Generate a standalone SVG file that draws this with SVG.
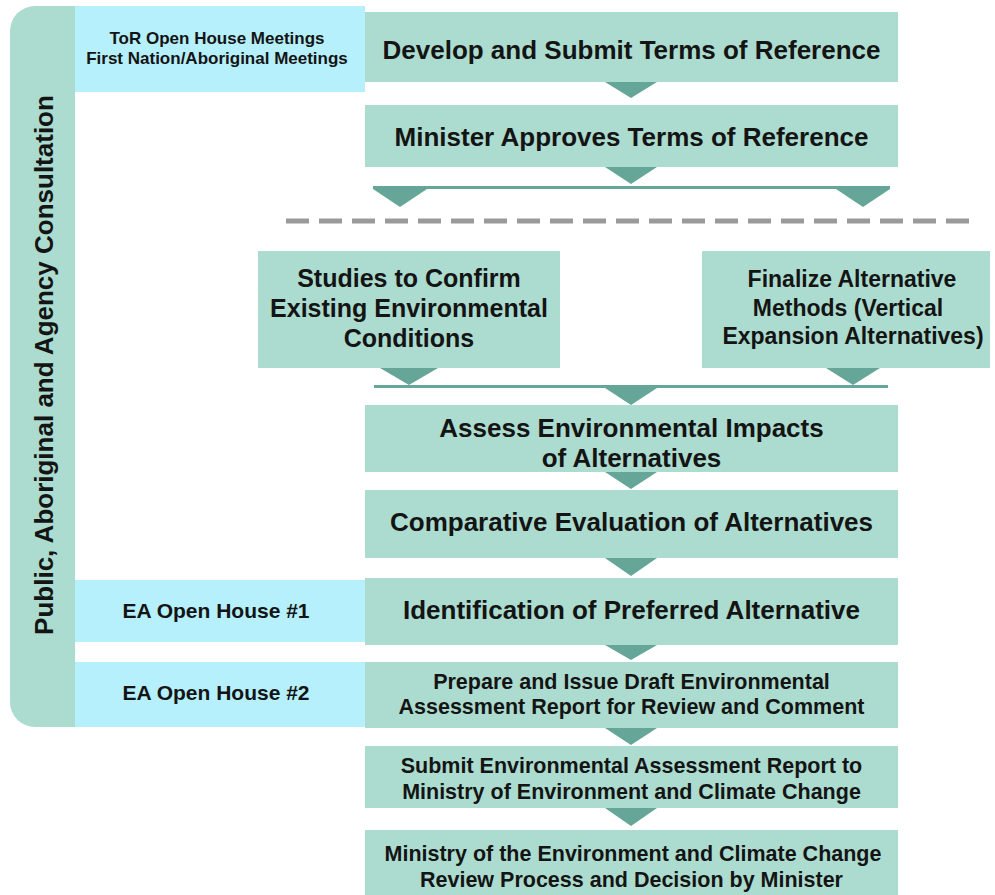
<svg xmlns="http://www.w3.org/2000/svg" width="995" height="895" viewBox="0 0 995 895">
  <defs>
    <style>
      .step { fill: #acdccf; }
      .meet { fill: #b5f0fc; }
      .band { fill: #acdccf; }
      .tri { fill: #66a699; }
      .bar { fill: #66a699; }
      .dash { stroke: #9a9a9a; stroke-width: 5; stroke-dasharray: 23 10; fill: none; }
      text { font-family: "Liberation Sans", Arial, sans-serif; font-weight: bold; fill: #141414; text-anchor: middle; }
      .t26 { font-size: 26px; }
      .t25 { font-size: 25px; }
      .t23 { font-size: 23px; }
      .t21 { font-size: 21.5px; }
      .t20 { font-size: 21px; }
      .t17 { font-size: 17px; }
      .tv { font-size: 26px; }
    </style>
  </defs>

  <rect width="995" height="895" fill="#ffffff"/>

  <!-- consultation band on the left -->
  <g id="consultation">
    <path class="band" d="M35,6 H75 V727 H35 A25,25 0 0 1 10,702 V31 A25,25 0 0 1 35,6 Z"/>
    <text class="tv" transform="translate(53,365) rotate(-90)">Public, Aboriginal and Agency Consultation</text>
  </g>

  <g id="tor-meetings">
    <rect class="meet" x="75" y="6" width="290" height="86"/>
    <text class="t17" x="217" y="44">ToR Open House Meetings</text>
    <text class="t17" x="217" y="64">First Nation/Aboriginal Meetings</text>
  </g>

  <g id="ea-open-house-1">
    <rect class="meet" x="75" y="580" width="290" height="62"/>
    <text class="t20" x="216" y="618">EA Open House #1</text>
  </g>

  <g id="ea-open-house-2">
    <rect class="meet" x="75" y="662" width="290" height="65"/>
    <text class="t20" x="216" y="700">EA Open House #2</text>
  </g>

  <!-- process steps -->
  <g id="develop-tor">
    <rect class="step" x="365" y="12" width="533" height="70"/>
    <text class="t26" x="631.5" y="59">Develop and Submit Terms of Reference</text>
  </g>

  <g id="approve-tor">
    <rect class="step" x="365" y="105" width="533" height="62"/>
    <text class="t26" x="631.5" y="146">Minister Approves Terms of Reference</text>
  </g>

  <g id="studies">
    <rect class="step" x="258" y="251" width="302" height="117"/>
    <text class="t25" x="409" y="287">Studies to Confirm</text>
    <text class="t25" x="409" y="317">Existing Environmental</text>
    <text class="t25" x="409" y="347">Conditions</text>
  </g>

  <g id="finalize-alternatives">
    <rect class="step" x="702" y="251" width="288" height="117"/>
    <text class="t23" x="852" y="287">Finalize Alternative</text>
    <text class="t23" x="848" y="316">Methods (Vertical</text>
    <text class="t23" x="853" y="344">Expansion Alternatives)</text>
  </g>

  <g id="assess-impacts">
    <rect class="step" x="365" y="405" width="533" height="67"/>
    <text class="t26" x="631.5" y="437">Assess Environmental Impacts</text>
    <text class="t26" x="631.5" y="467">of Alternatives</text>
  </g>

  <g id="comparative-evaluation">
    <rect class="step" x="365" y="490" width="533" height="68"/>
    <text class="t26" x="631.5" y="531">Comparative Evaluation of Alternatives</text>
  </g>

  <g id="preferred-alternative">
    <rect class="step" x="365" y="578" width="533" height="67"/>
    <text class="t26" x="631.5" y="619">Identification of Preferred Alternative</text>
  </g>

  <g id="draft-report">
    <rect class="step" x="365" y="662" width="533" height="66"/>
    <text class="t21" x="631.5" y="689">Prepare and Issue Draft Environmental</text>
    <text class="t21" x="631.5" y="714">Assessment Report for Review and Comment</text>
  </g>

  <g id="submit-report">
    <rect class="step" x="365" y="746" width="533" height="62"/>
    <text class="t21" x="631.5" y="773">Submit Environmental Assessment Report to</text>
    <text class="t21" x="631.5" y="799">Ministry of Environment and Climate Change</text>
  </g>

  <g id="ministry-decision">
    <rect class="step" x="365" y="830" width="533" height="65"/>
    <text class="t21" x="633" y="861">Ministry of the Environment and Climate Change</text>
    <text class="t21" x="631.5" y="887">Review Process and Decision by Minister</text>
  </g>

  <!-- connectors: arrow wedges, split/merge bars, phase divider -->
  <g id="connectors">
    <polygon class="tri" points="605,82 657,82 631,98"/>
    <polygon class="tri" points="605,167 657,167 631,184"/>
    <rect class="bar" x="373" y="186" width="517" height="3"/>
    <polygon class="tri" points="373,189 427,189 400,207"/>
    <polygon class="tri" points="836,189 890,189 863,207"/>

    <line class="dash" x1="286" y1="221" x2="978" y2="221"/>

    <polygon class="tri" points="380,368 438,368 409,385"/>
    <polygon class="tri" points="826,368 880,368 853,385"/>
    <rect class="bar" x="374" y="385" width="514" height="3"/>
    <polygon class="tri" points="605,388 657,388 631,405"/>

    <polygon class="tri" points="605,472 657,472 631,489"/>
    <polygon class="tri" points="605,558 657,558 631,576"/>
    <polygon class="tri" points="605,645 657,645 631,660"/>
    <polygon class="tri" points="605,728 657,728 631,745"/>
    <polygon class="tri" points="605,808 657,808 631,826"/>
  </g>
</svg>
